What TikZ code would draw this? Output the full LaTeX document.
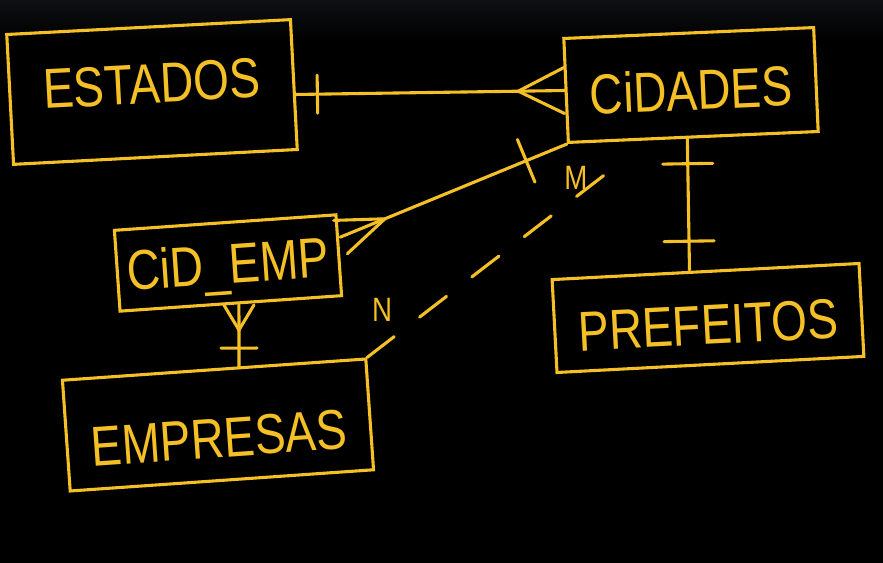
\documentclass[tikz,border=0pt]{standalone}
\usepackage{fontspec}
\setmainfont[FakeStretch=0.82]{Liberation Sans}
\usepackage{tikz}
\usetikzlibrary{positioning,calc,decorations.markings}

\definecolor{chalk}{RGB}{244,192,38}
\definecolor{boardtop}{RGB}{15,16,19}

\begin{document}
\begin{tikzpicture}[
  x=0.025cm, y=-0.025cm,
  entity/.style={draw=chalk, line width=2.2pt, text=chalk, inner sep=0pt, align=center, font=\fontsize{40}{40}\selectfont},
  card/.style={text=chalk, inner sep=0pt, font=\fontsize{24}{24}\selectfont},
  rel/.style={draw=chalk, line width=2.2pt, line cap=round},
  onebar/.style 2 args={postaction={decorate, decoration={markings, mark=at position #1 with {\draw[rel] (0,-#2) -- (0,#2);}}}},
  crowstart/.style 2 args={postaction={decorate, decoration={markings, mark=at position 0.001 with {\draw[rel] (0,-#2) -- (#1,0) -- (0,#2);}}}},
  crowend/.style 2 args={postaction={decorate, decoration={markings, mark=at position 0.999 with {\draw[rel] (0,-#2) -- (-#1,0) -- (0,#2);}}}}
]
  % board
  \fill[black] (0,0) rectangle (883,563);
  \shade[top color=boardtop, bottom color=black] (0,0) rectangle (883,40);

  % entities
  \node[entity, rotate=3, minimum width=7.1cm, text height=1.9cm, text depth=1.35cm] (estados) at (152,92) {ESTADOS};
  \node[entity, rotate=2.5, minimum width=6.25cm, text height=1.925cm, text depth=0.675cm] (cidades) at (691,85) {CiDADES};
  \node[entity, rotate=4, minimum width=5.55cm, text height=1.525cm, text depth=0.5cm] (cidemp) at (228,263) {CiD\_EMP};
  \node[entity, rotate=3, minimum width=7.68cm, text height=1.825cm, text depth=0.5cm] (prefeitos) at (708,318) {PREFEITOS};
  \node[entity, rotate=4, minimum width=7.6cm, text height=2.2cm, text depth=0.575cm] (empresas) at (218,425) {EMPRESAS};

  % relationships
  \draw[rel, onebar={0.55cm}{19}, crowend={46}{23}] ([yshift=-0.25cm]estados.east) -- (cidades.west);
  \draw[rel, onebar={0.63cm}{25}, onebar={-0.72cm}{25}] ([xshift=-0.15cm]cidades.south) -- ([xshift=-0.4cm]prefeitos.north);
  \draw[rel, crowstart={48}{18}, onebar={-1.1cm}{23}] ([yshift=0.45cm]cidemp.east) -- (cidades.south west);
  \draw[rel, crowstart={25}{15}, onebar={-0.5cm}{18}] ([xshift=0.2cm]cidemp.south) -- ([xshift=0.625cm]empresas.north);

  % n:m link
  \coordinate (nmend) at (607,173);
  \draw[rel, dash pattern=on 0.85cm off 0.8cm] (empresas.north east) -- (nmend);
  \node[card] (ncard) at (382,310) {N};
  \node[card] (mcard) at (576,178) {M};
\end{tikzpicture}
\end{document}
